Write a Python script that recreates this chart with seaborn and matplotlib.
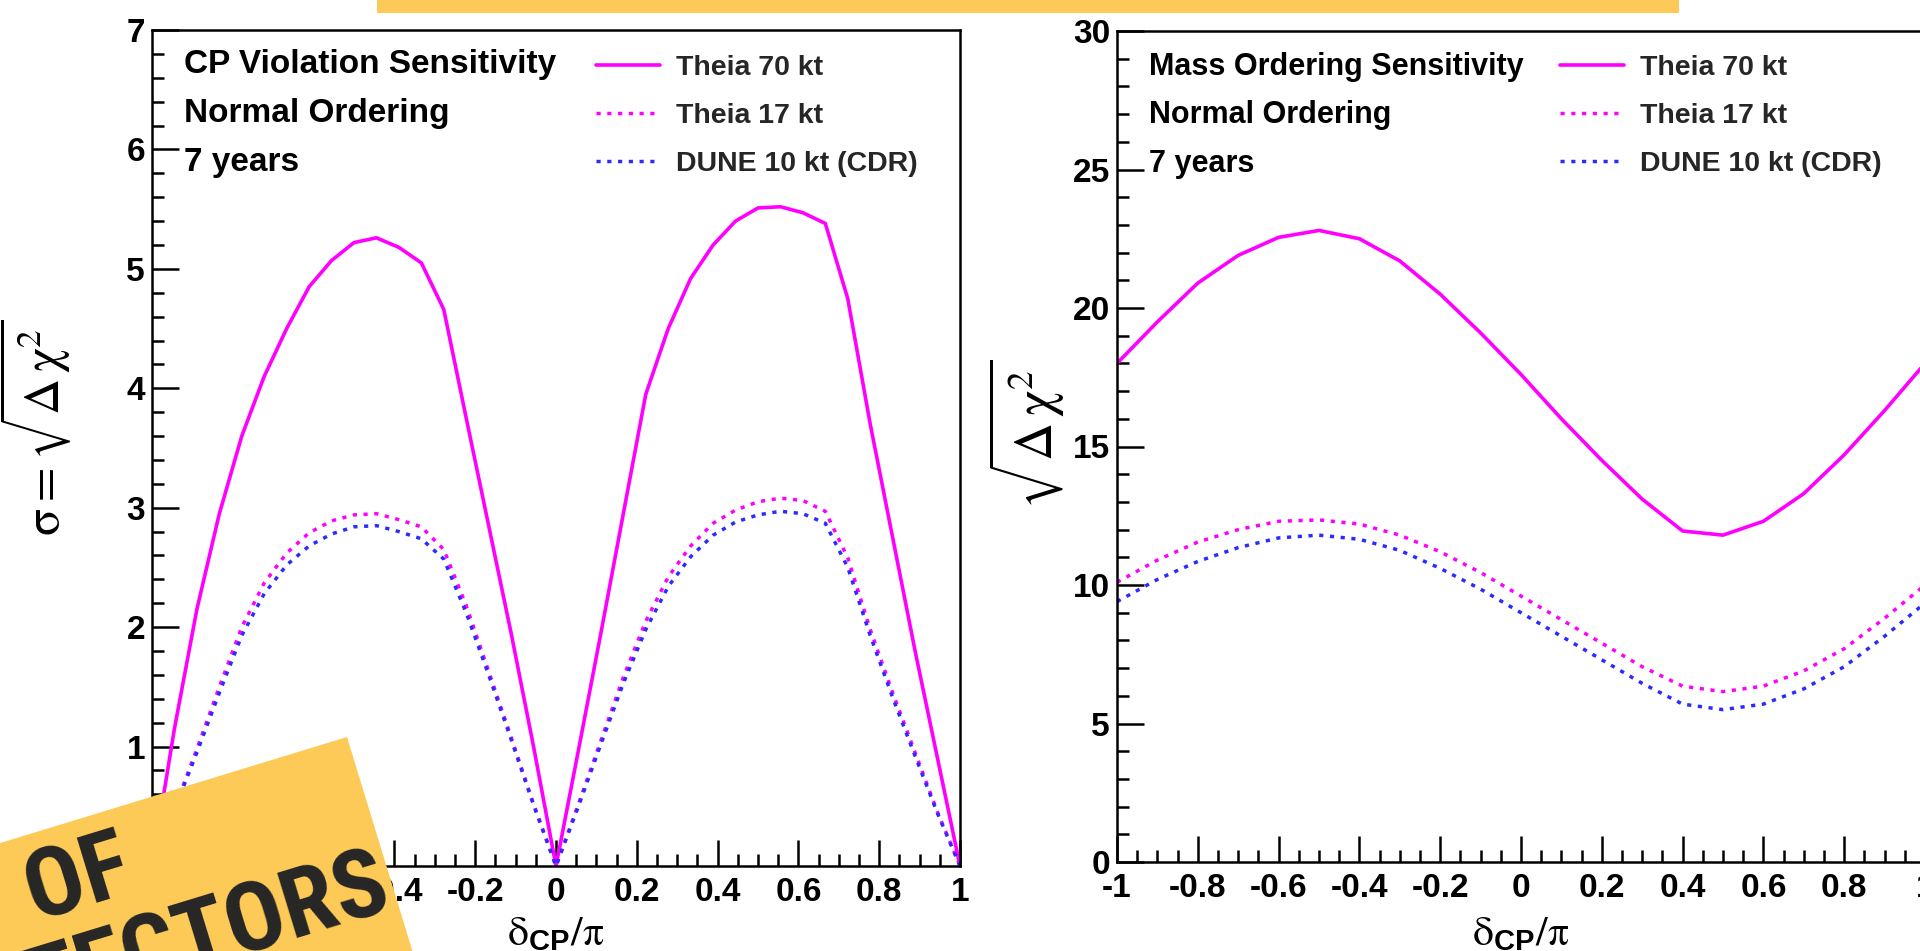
import numpy as np
import pandas as pd
import matplotlib
matplotlib.use("Agg")
import matplotlib.pyplot as plt
from matplotlib.patches import Polygon, Rectangle
from matplotlib.ticker import MultipleLocator, FuncFormatter
import seaborn as sns

# ---------------------------------------------------------------------------
# Data
# ---------------------------------------------------------------------------
# CP-violation sensitivity, delta_CP sampled every 10 degrees
cp_deg = [-180, -170, -160, -150, -140, -130, -120, -110, -100, -90, -80, -70,
          -60, -50, -40, -30, -20, -10, 0, 10, 20, 30, 40, 50, 60, 70, 80, 90,
          100, 110, 120, 130, 140, 150, 160, 170, 180]
cpv_theia70 = [0.00, 1.15, 2.15, 2.95, 3.60, 4.10, 4.50, 4.85, 5.07, 5.22, 5.26,
               5.18, 5.05, 4.66, 3.75, 2.85, 1.95, 1.00, 0.00, 0.97, 1.95, 2.95,
               3.95, 4.50, 4.92, 5.20, 5.40, 5.51, 5.52, 5.47, 5.38, 4.75, 3.70,
               2.75, 1.80, 0.90, 0.00]
cpv_theia17 = [0.00, 0.48, 0.98, 1.50, 2.00, 2.37, 2.62, 2.79, 2.89, 2.94, 2.95,
               2.90, 2.84, 2.65, 2.18, 1.63, 1.08, 0.52, 0.00, 0.52, 1.05, 1.58,
               2.05, 2.42, 2.68, 2.87, 2.98, 3.05, 3.08, 3.06, 2.97, 2.58, 1.98,
               1.45, 0.95, 0.45, 0.00]
cpv_dune10 = [0.00, 0.47, 0.95, 1.45, 1.93, 2.28, 2.52, 2.68, 2.78, 2.84, 2.85,
              2.80, 2.74, 2.57, 2.12, 1.60, 1.06, 0.51, 0.00, 0.50, 1.02, 1.53,
              1.98, 2.34, 2.59, 2.77, 2.88, 2.94, 2.97, 2.95, 2.87, 2.50, 1.93,
              1.41, 0.92, 0.44, 0.00]

# Mass-ordering sensitivity, delta_CP/pi in steps of 0.1
mo_x = [-1.0, -0.9, -0.8, -0.7, -0.6, -0.5, -0.4, -0.3, -0.2, -0.1, 0.0,
        0.1, 0.2, 0.3, 0.4, 0.5, 0.6, 0.7, 0.8, 0.9, 1.0]
mo_theia70 = [18.0, 19.5, 20.9, 21.9, 22.55, 22.8, 22.5, 21.7, 20.5, 19.1, 17.6,
              16.0, 14.5, 13.1, 11.95, 11.8, 12.3, 13.3, 14.7, 16.3, 18.0]
mo_theia17 = [10.1, 10.9, 11.55, 12.0, 12.3, 12.35, 12.2, 11.8, 11.2, 10.45, 9.6,
              8.75, 7.9, 7.05, 6.35, 6.15, 6.35, 6.9, 7.7, 8.8, 10.0]
mo_dune10 = [9.4, 10.2, 10.85, 11.35, 11.7, 11.8, 11.65, 11.25, 10.6, 9.85, 9.0,
             8.15, 7.3, 6.45, 5.7, 5.5, 5.7, 6.25, 7.05, 8.15, 9.35]

series_labels = ["Theia 70 kt", "Theia 17 kt", "DUNE 10 kt (CDR)"]
cp_notes = ["CP Violation Sensitivity", "Normal Ordering", "7 years"]
mo_notes = ["Mass Ordering Sensitivity", "Normal Ordering", "7 years"]

cp_x = [d / 180 for d in cp_deg]
cp_df = pd.DataFrame({"x": cp_x, series_labels[0]: cpv_theia70,
                      series_labels[1]: cpv_theia17, series_labels[2]: cpv_dune10})
mo_df = pd.DataFrame({"x": mo_x, series_labels[0]: mo_theia70,
                      series_labels[1]: mo_theia17, series_labels[2]: mo_dune10})

# ---------------------------------------------------------------------------
# Style
# ---------------------------------------------------------------------------
sns.set_theme(style="white")
plt.rcParams["font.family"] = ["Liberation Sans", "DejaVu Sans"]
plt.rcParams["mathtext.fontset"] = "custom"
plt.rcParams["mathtext.rm"] = "STIXGeneral"
plt.rcParams["mathtext.it"] = "STIXGeneral:italic"
plt.rcParams["mathtext.bf"] = "STIXGeneral:bold"
plt.rcParams["mathtext.sf"] = "Liberation Sans:bold"
plt.rcParams["mathtext.fallback"] = "stix"
plt.rcParams["axes.unicode_minus"] = False

MAGENTA = "#ff00ff"
BLUE = "#2b2bff"
DOT = (0, (1.2, 1.9))
line_styles = [
    dict(color=MAGENTA, lw=2.6, ls="-"),
    dict(color=MAGENTA, lw=2.5, ls=DOT),
    dict(color=BLUE, lw=2.5, ls=DOT),
]

W, H = 1920, 951
fig = plt.figure(figsize=(W / 100, H / 100), dpi=100)
fig.patch.set_facecolor("white")


def px_box(x0, y0, x1, y1):
    """Pixel box (origin top-left) -> figure fraction rect."""
    return [x0 / W, (H - y1) / H, (x1 - x0) / W, (y1 - y0) / H]


def fx(x):
    return x / W


def fy(y):
    return (H - y) / H


axL = fig.add_axes(px_box(152, 30, 960, 866))
axR = fig.add_axes(px_box(1117, 31, 1925, 862))

tick_fmt = FuncFormatter(lambda v, p: f"{round(v, 1) + 0.0:g}")


def style_axes(ax, ymax, ymajor, yminor):
    ax.set_xlim(-1, 1)
    ax.set_ylim(0, ymax)
    ax.grid(False)
    ax.xaxis.set_major_locator(MultipleLocator(0.2))
    ax.xaxis.set_minor_locator(MultipleLocator(0.05))
    ax.yaxis.set_major_locator(MultipleLocator(ymajor))
    ax.yaxis.set_minor_locator(MultipleLocator(yminor))
    ax.xaxis.set_major_formatter(tick_fmt)
    ax.yaxis.set_major_formatter(tick_fmt)
    ax.tick_params(which="both", direction="in", top=False, right=False,
                   bottom=True, left=True, width=1.8, color="black")
    ax.tick_params(axis="y", which="major", length=19.5, pad=5)
    ax.tick_params(axis="y", which="minor", length=8.6)
    ax.tick_params(axis="x", which="major", length=18.5, pad=8)
    ax.tick_params(axis="x", which="minor", length=8.6)
    for lab in ax.get_xticklabels() + ax.get_yticklabels():
        lab.set_fontweight("bold")
        lab.set_fontsize(24)
        lab.set_color("black")
    for sp in ax.spines.values():
        sp.set_visible(True)
        sp.set_linewidth(1.8)
        sp.set_color("black")


def draw_panel(ax, df, notes, note_size, note_ys, leg_anchor):
    for name, st in zip(series_labels, line_styles):
        sns.lineplot(data=df, x="x", y=name, ax=ax, estimator=None, sort=False,
                     color=st["color"], lw=st["lw"], linestyle=st["ls"],
                     label=name, legend=False)
    for txt, yb in zip(notes, note_ys):
        ax.text(0.039, yb, txt, transform=ax.transAxes, fontsize=note_size,
                fontweight="bold", va="baseline", ha="left", color="black")
    ax.legend(ax.get_lines()[:3], series_labels, loc="upper left",
              bbox_to_anchor=leg_anchor, frameon=False,
              prop={"weight": "bold", "size": 20.5},
              handlelength=2.25, handletextpad=0.56, labelspacing=0.77,
              borderpad=0, borderaxespad=0)


draw_panel(axL, cp_df, cp_notes, 24, [0.9486, 0.890, 0.8313], (0.5495, 0.970))
draw_panel(axR, mo_df, mo_notes, 22, [0.947, 0.889, 0.830], (0.548, 0.971))

style_axes(axL, 7, 1, 0.2)
style_axes(axR, 30, 5, 1)

for ax in (axL, axR):
    ax.set_xlabel(r"$\mathrm{\delta}_{\mathsf{CP}}/\mathrm{\pi}$", fontsize=30,
                  color="black")

axL.xaxis.set_label_coords(0.5, -0.058)
axR.xaxis.set_label_coords(0.5, -0.063)

axL.set_ylabel(r"$\mathrm{\sigma} = \sqrt{\Delta\,\mathrm{\chi}^{2}}$",
               fontsize=36, color="black")
axR.set_ylabel(r"$\sqrt{\Delta\,\mathrm{\chi}^{2}}$", fontsize=38, color="black")
for ax, (lx, ly) in ((axL, (-0.145, 0.524)), (axR, (-0.112, 0.514))):
    ax.yaxis.label.set_va("center")
    ax.yaxis.set_label_coords(lx, ly)

# ---------------------------------------------------------------------------
# Banner strip and tilted tag
# ---------------------------------------------------------------------------
YELLOW = "#fdca58"
fig.patches.append(Rectangle((fx(377), fy(13)), fx(1679) - fx(377), fy(0) - fy(13),
                             transform=fig.transFigure, facecolor=YELLOW,
                             edgecolor="none", zorder=10))

ang = np.deg2rad(17)
u = np.array([np.cos(ang), -np.sin(ang)])   # along the tag (pixel coords, y down)
v = np.array([np.sin(ang), np.cos(ang)])    # down the tag
p0 = np.array([347.0, 737.0])
p1 = p0 - 700 * u
p3 = p0 + 450 * v
p2 = p1 + 450 * v
tag = np.array([p0, p1, p2, p3])
fig.patches.append(Polygon(np.column_stack([fx(tag[:, 0]), fy(tag[:, 1])]),
                           closed=True, transform=fig.transFigure,
                           facecolor=YELLOW, edgecolor="none", zorder=10))

tag_font = dict(fontsize=70, fontweight="bold", color="#262626",
                family=["Roboto Condensed", "Open Sans Condensed",
                        "Liberation Sans Narrow", "Roboto"],
                rotation=17, rotation_mode="anchor", ha="right", va="baseline",
                zorder=11)
fig.text(fx(136), fy(891), "IMPACT OF", **tag_font)
fig.text(fx(394), fy(907), "DETECTORS", **tag_font)

fig.savefig("out.png", dpi=100, facecolor="white")
